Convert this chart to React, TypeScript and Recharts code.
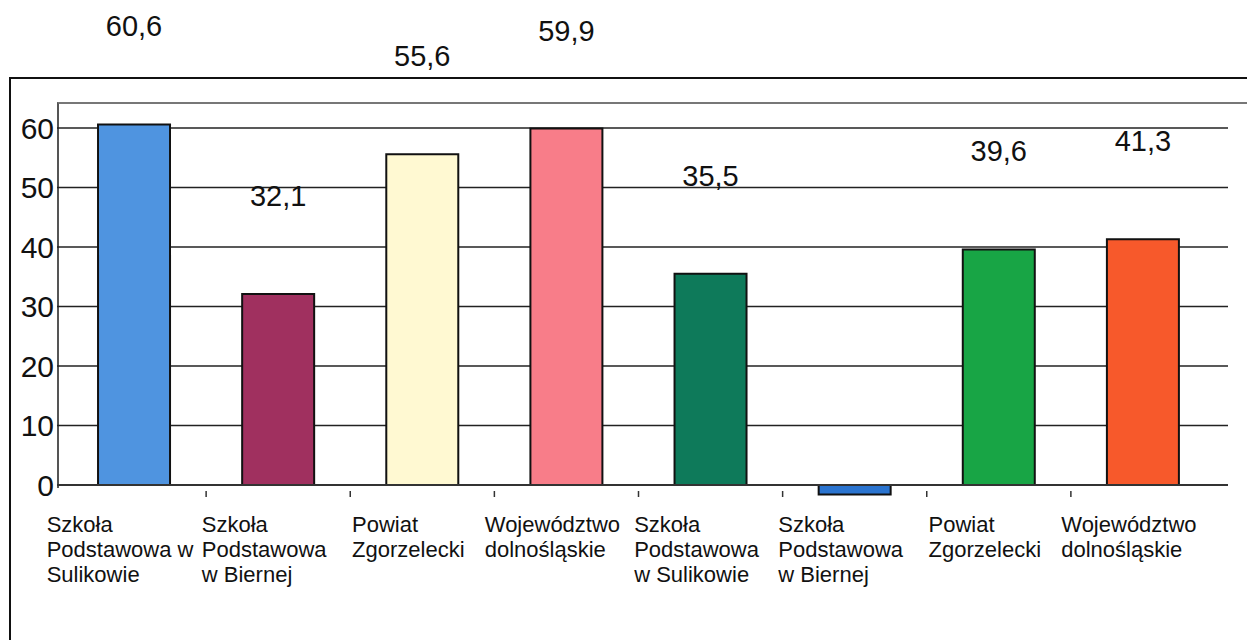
import React from 'react';
import { BarChart, Bar, XAxis, YAxis, CartesianGrid, Cell, LabelList, ReferenceLine } from 'recharts';

const categories = [
  'Szkoła Podstawowa w Sulikowie',
  'Szkoła Podstawowa w Biernej',
  'Powiat Zgorzelecki',
  'Województwo dolnośląskie',
  'Szkoła Podstawowa w Sulikowie',
  'Szkoła Podstawowa w Biernej',
  'Powiat Zgorzelecki',
  'Województwo dolnośląskie',
];

// how the labels are wrapped under the axis
const tickLines = [
  ['Szkoła', 'Podstawowa w', 'Sulikowie'],
  ['Szkoła', 'Podstawowa', 'w Biernej'],
  ['Powiat', 'Zgorzelecki'],
  ['Województwo', 'dolnośląskie'],
  ['Szkoła', 'Podstawowa', 'w Sulikowie'],
  ['Szkoła', 'Podstawowa', 'w Biernej'],
  ['Powiat', 'Zgorzelecki'],
  ['Województwo', 'dolnośląskie'],
];

const values = [60.6, 32.1, 55.6, 59.9, 35.5, -1.6, 39.6, 41.3];

const colors = ['#4f94e0', '#a0305f', '#fff9d2', '#f87d89', '#0e7a5a', '#2a74d0', '#18a545', '#f7592b'];

const yTicks = [0, 10, 20, 30, 40, 50, 60];

const data = categories.map((name, i) => ({ name, idx: i, value: values[i] }));

const FONT = "'Liberation Sans', Arial, sans-serif";

let ctx: CanvasRenderingContext2D | null = null;
const measure = (s: string) => {
  if (!ctx) ctx = document.createElement('canvas').getContext('2d');
  if (!ctx) return s.length * 11;
  ctx.font = `22px ${FONT}`;
  return ctx.measureText(s).width;
};

const CategoryTick = (props: any) => {
  const { x, y, index, payload } = props;
  const lines = tickLines[index] || [];
  const w = Math.max(...lines.map(measure));
  const left = x - 14 - w / 2;
  const half = payload && payload.offset ? payload.offset : 0;
  return (
    <g>
      {half > 0 && index > 0 && (
        <line x1={x - half} x2={x - half} y1={y - 6} y2={y} stroke="#333" strokeWidth={1.5} />
      )}
      {lines.map((l, i) => (
        <text key={i} x={left} y={y + 35 + i * 25} fontSize={22} fontFamily={FONT} fill="#111" textAnchor="start">
          {l}
        </text>
      ))}
    </g>
  );
};

const fmt = (v: number) => v.toFixed(1).replace('.', ',');

const ValueLabel = (props: any) => {
  const { x, y, width, value } = props;
  if (value < 0) return null;
  return (
    <text x={x + width / 2} y={y - 88} fontSize={29} fontFamily={FONT} fill="#111" textAnchor="middle">
      {fmt(value)}
    </text>
  );
};

export default function App() {
  return (
    <div style={{ position: 'absolute', left: 0, top: 0, width: 1247, height: 640, overflow: 'hidden', background: '#fff' }}>
      <div style={{ position: 'absolute', left: 9, top: 77, width: 1270, height: 600, border: '2px solid #111' }} />
      <div style={{ position: 'absolute', left: 57, top: 102, width: 1250, height: 384, borderTop: '2px solid #777', borderLeft: '2px solid #555' }} />
      <div style={{ position: 'absolute', left: 0, top: 0 }}>
        <BarChart width={1247} height={640} data={data} margin={{ top: 103, right: 19, bottom: 113, left: 0 }} barCategoryGap="25%">
          <CartesianGrid vertical={false} horizontal stroke="#222" strokeWidth={1.5} horizontalValues={yTicks} />
          <XAxis
            dataKey="idx"
            type="category"
            height={30}
            axisLine={false}
            tickLine={false}
            tickSize={0}
            tickMargin={0}
            tick={<CategoryTick />}
            interval={0}
            padding={{ left: 5, right: 13 }}
          />
          <YAxis
            type="number"
            domain={[-2, 64.2]}
            ticks={yTicks}
            width={57}
            axisLine={false}
            tickLine={false}
            tickSize={0}
            tickMargin={3}
            allowDataOverflow
            tick={{ fontSize: 30, fontFamily: FONT, fill: '#111' }}
          />
          <ReferenceLine y={0} stroke="#333" strokeWidth={2} />
          <Bar dataKey="value" stroke="#111" strokeWidth={2} isAnimationActive={false}>
            {data.map((d, i) => (
              <Cell key={`c-${i}`} fill={colors[i]} />
            ))}
            <LabelList dataKey="value" content={<ValueLabel />} />
          </Bar>
        </BarChart>
      </div>
    </div>
  );
}
